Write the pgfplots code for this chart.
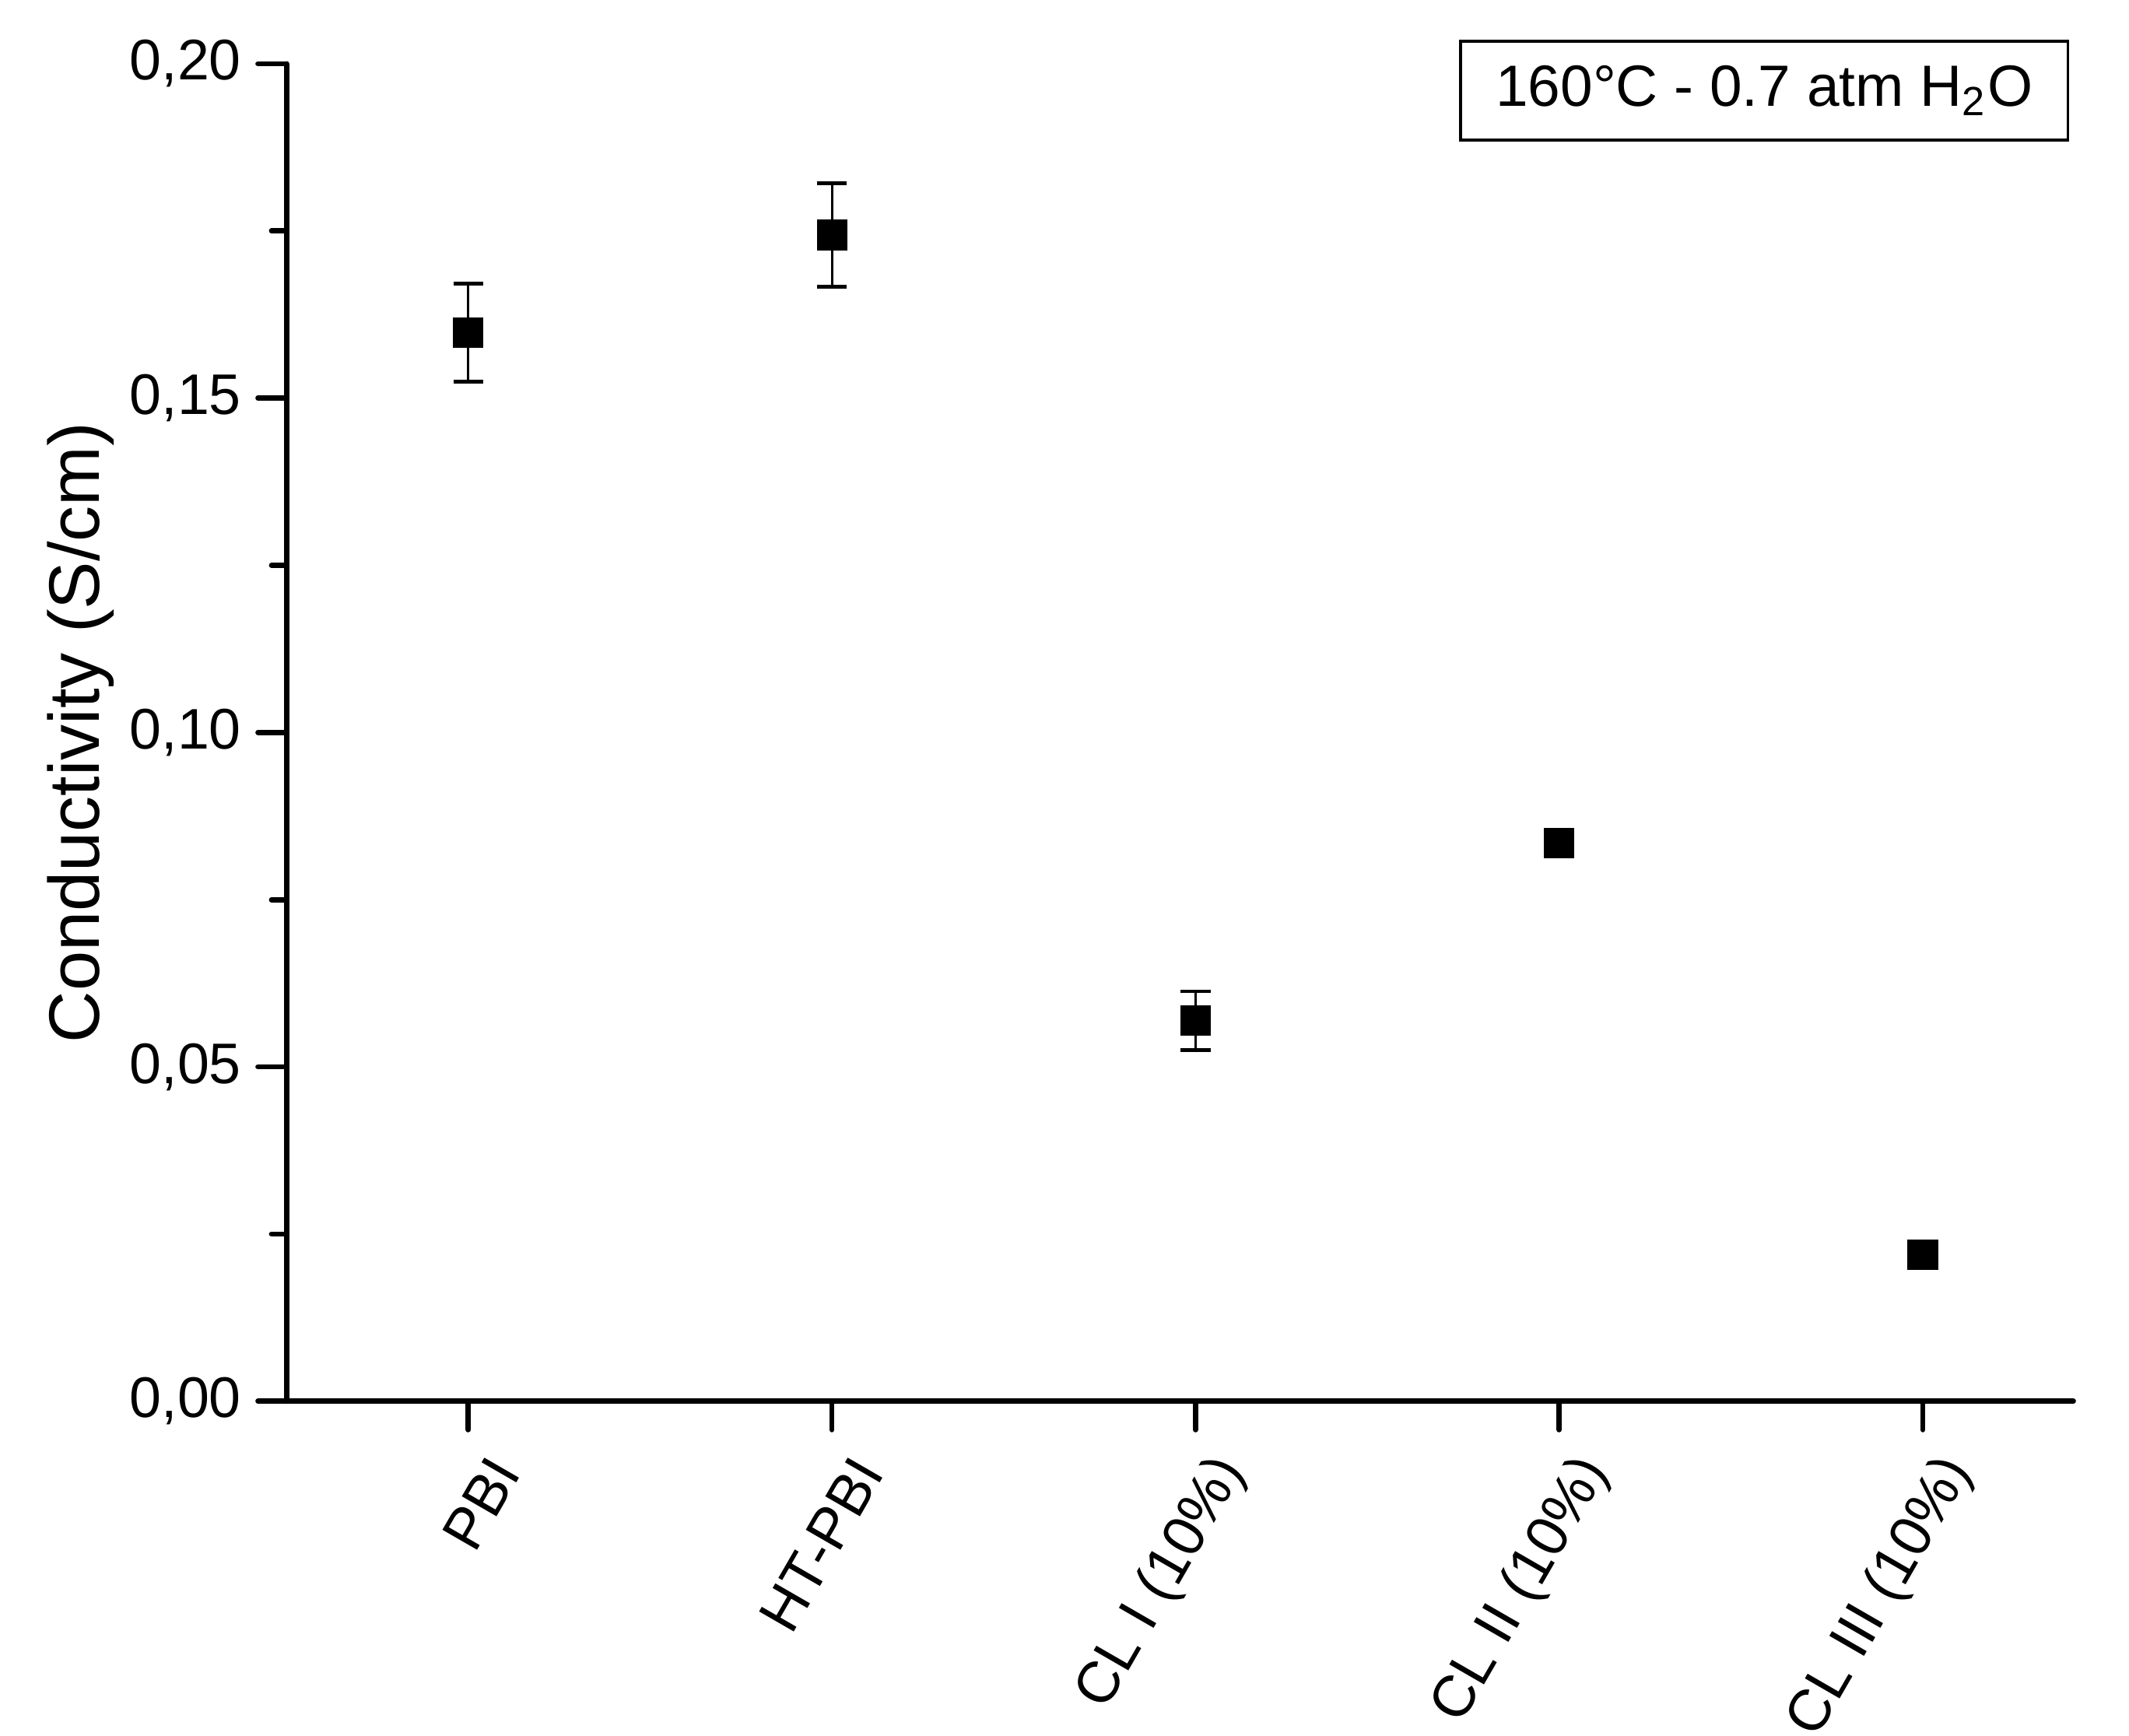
\documentclass[border=0pt]{standalone}
\usepackage{fontspec}
\setmainfont{Liberation Sans}
\usepackage{pgfplots}
\pgfplotsset{compat=1.18}

\begin{document}
\begin{tikzpicture}
\begin{axis}[
    scale only axis,
    width=131.6mm, height=98.5mm,
    xmin=-0.5, xmax=4.414,
    ymin=0, ymax=0.2,
    clip=false,
    axis lines=left,
    axis line style={-, line width=1.1pt, line cap=round},
    tick align=outside,
    major tick length=2.1mm,
    minor tick length=1.1mm,
    tick style={black, line width=1.1pt, line cap=round},
    xtick={0,1,2,3,4},
    xticklabels={PBI, HT-PBI, CL I (10\%), CL II (10\%), CL III (10\%)},
    x tick label style={xshift=2.7mm, yshift=-2.4mm, rotate=60, anchor=east, inner sep=0pt,
        font=\fontsize{12.2}{14}\selectfont},
    ytick={0,0.05,0.1,0.15,0.2},
    minor ytick={0.025,0.075,0.125,0.175},
    y tick label style={font=\fontsize{12}{14}\selectfont},
    /pgf/number format/fixed,
    /pgf/number format/fixed zerofill,
    /pgf/number format/precision=2,
    /pgf/number format/use comma,
    /pgf/number format/assume math mode=true,
    ylabel={Conductivity (S/cm)},
    ylabel style={font=\fontsize{15}{18}\selectfont, at={([xshift=-17.7mm]rel axis cs:0,0.5)}, anchor=north, inner sep=0pt},
]
% points with error bars
\addplot[only marks, mark=square*, mark size=1.05mm, mark options={black},
    error bars/.cd, y dir=both, y explicit,
    error bar style={line width=0.5pt, black},
    error mark options={rotate=90, line width=0.8pt, mark size=1.1mm, black}]
  table[x=x, y=y, y error=e] {
x y e
0 0.1598 0.0073
1 0.1744 0.0077
2 0.0569 0.0044
};
% points without error bars
\addplot[only marks, mark=square*, mark size=1.05mm, mark options={black}]
  table[x=x, y=y] {
x y
3 0.0835
4 0.0219
};
\draw[line width=0.6pt] (rel axis cs:0.657,0.943) rectangle (rel axis cs:0.997,1.017);
\node[font=\fontsize{12.2}{14}\selectfont] at (rel axis cs:0.827,0.98) {160°C - 0.7 atm H\textsubscript{2}O};
\end{axis}
\pgfresetboundingbox
\path[use as bounding box] ([shift={(-21.1mm,-24.6mm)}]current axis.south west) rectangle ([shift={(4.1mm,4.7mm)}]current axis.north east);
\end{tikzpicture}
\end{document}
